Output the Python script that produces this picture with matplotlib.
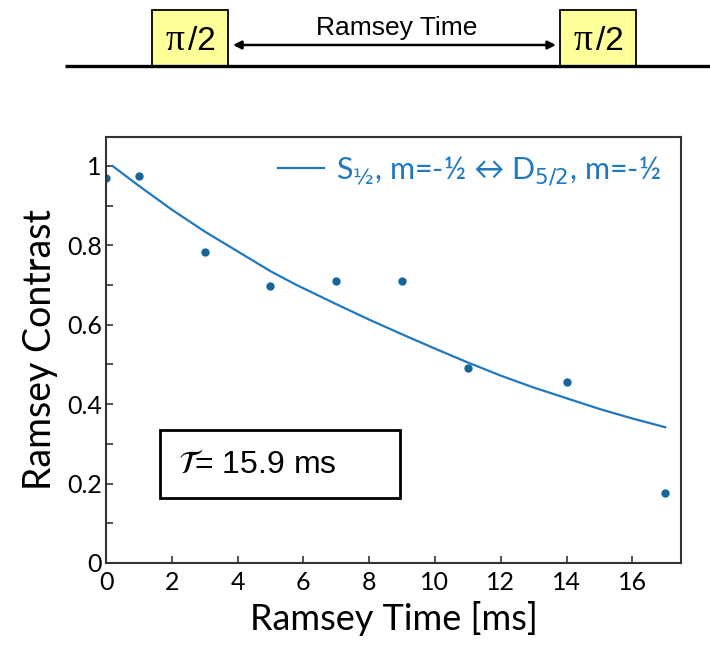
import numpy as np
import matplotlib.pyplot as plt
from matplotlib.patches import Rectangle
from matplotlib.ticker import MultipleLocator, FuncFormatter

# measured Ramsey contrast
t_data = [0, 1, 3, 5, 7, 9, 11, 14, 17]
contrast = [0.970, 0.975, 0.783, 0.698, 0.710, 0.710, 0.491, 0.456, 0.176]

# fitted decay curve
t_fit = [0.2, 1, 2, 3, 4, 5, 5.8, 6, 7, 8, 9, 10, 11, 12, 13, 14, 15, 16, 17]
c_fit = [1.00, 0.95, 0.89, 0.835, 0.785, 0.735, 0.70, 0.692, 0.652, 0.613, 0.576,
         0.540, 0.505, 0.472, 0.442, 0.415, 0.388, 0.364, 0.342]

legend_label = 'S$_{½}$, m=-½ ↔ D$_{5/2}$, m=-½'
tau_label = r'$\mathcal{T}$= 15.9 ms'
pulse_label = 'π'

line_blue = '#1f78c0'
dot_blue = '#17669a'

plt.rcParams['font.family'] = ['Lato', 'DejaVu Sans']

fig = plt.figure(figsize=(7.1, 6.5), dpi=100)

# pulse sequence sketch on top, in pixel coords
top = fig.add_axes([0, 0, 1, 1])
top.set_xlim(0, 710)
top.set_ylim(650, 0)
top.axis('off')
top.plot([65, 710], [66, 66], color='black', lw=2.4, solid_capstyle='butt')
for x0 in (152, 560):
    top.add_patch(Rectangle((x0, 10), 76, 56, facecolor='#ffff99', edgecolor='black', lw=1.3))
    top.text(x0 + 33, 41, pulse_label, family='Liberation Serif', fontsize=27,
             ha='right', va='center')
    top.text(x0 + 36, 41, '/2', family='Liberation Sans', fontsize=24,
             ha='left', va='center')
top.annotate('', xy=(233, 45), xytext=(556, 45),
             arrowprops=dict(arrowstyle='<|-|>', color='black', lw=1.8,
                             mutation_scale=12, shrinkA=0, shrinkB=0))
top.text(397, 28, 'Ramsey Time', family='Liberation Sans', fontsize=19,
         ha='center', va='center')

ax = fig.add_axes([106 / 710, 1 - 563 / 650, 575 / 710, 426 / 650])
ax.plot(t_fit, c_fit, color=line_blue, lw=1.6, label=legend_label)
ax.plot(t_data, contrast, 'o', color=dot_blue, ms=6, mec='none')

ax.set_xlim(0, 17.48)
ax.set_ylim(0, 1.073)
ax.xaxis.set_major_locator(MultipleLocator(2))
ax.yaxis.set_major_locator(MultipleLocator(0.2))
ax.yaxis.set_minor_locator(MultipleLocator(0.1))
ax.yaxis.set_major_formatter(FuncFormatter(lambda v, p: '%g' % round(v, 2)))
ax.tick_params(which='both', direction='in', length=5, width=1.2, color='#333333',
               labelsize=18, pad=3)
ax.tick_params(axis='x', pad=6)
for s in ax.spines.values():
    s.set_color('#333333')
    s.set_linewidth(1.5)

ax.set_xlabel('Ramsey Time [ms]', fontsize=26, labelpad=5)
ax.set_ylabel('Ramsey Contrast', fontsize=27, labelpad=6)

ax.add_patch(Rectangle((1.64, 0.164), 7.3, 0.171, fill=False, edgecolor='black', lw=2))
ax.text(2.2, 0.248, tau_label, family='Liberation Sans', fontsize=23, va='center')

ax.legend(loc='upper right', bbox_to_anchor=(0.965, 0.96), frameon=False,
          fontsize=22, labelcolor=line_blue, handlelength=1.5, handletextpad=0.4,
          borderpad=0, borderaxespad=0)

fig.savefig('out.png', dpi=100)
